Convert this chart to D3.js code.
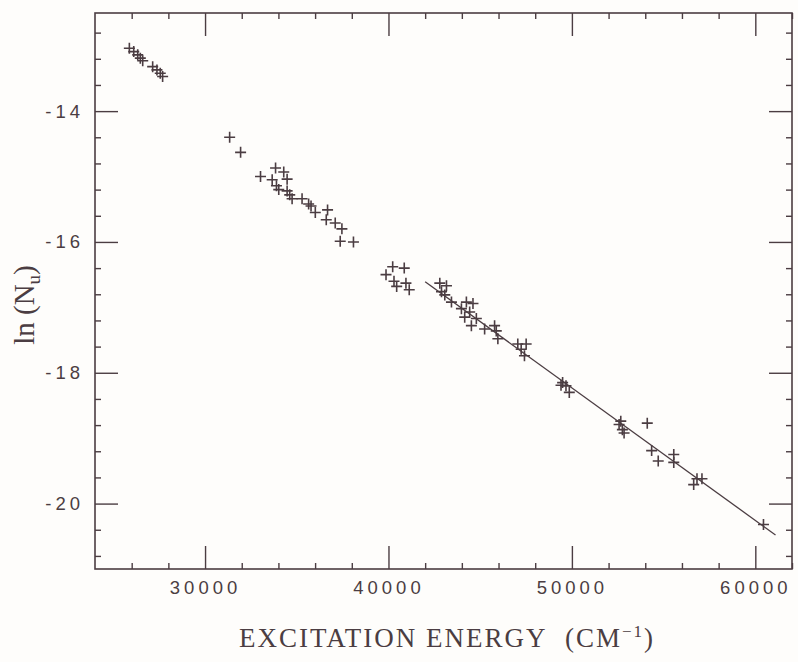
<!DOCTYPE html>
<html>
<head>
<meta charset="utf-8">
<script src="https://cdn.jsdelivr.net/npm/d3@7"></script>
<style>
  body { margin: 0; background: #fefdfb; }
  text { fill: #4b3d42; }
</style>
</head>
<body>
<svg id="main" width="798" height="662"></svg>
<script>
const width = 798
const height = 662
const ink = '#4b3d42'

// excitation energy (cm-1) and ln(Nu) of each measured level
const energy = [
  25873, 26112, 26329, 26470, 26601, 27144, 27377, 27557, 27687,
  31341, 31938, 33024, 33844, 34290, 34474, 33660, 33893, 34018, 34474,
  34616, 34746, 35289, 35647, 35778, 36011, 36679, 36608, 37097, 37461,
  37369, 38091,
  40230, 40860, 39866, 40301, 40447, 40952, 41132,
  42798, 43162, 42891, 43070, 43434, 44248, 44607, 43977, 44427, 44156,
  44791, 44520, 45242, 45785, 45877, 45964,
  47050, 47506, 47235, 47414,
  49494, 49678, 49858, 49407,
  52665, 52573, 52752, 52845, 54109, 54348, 54707, 55554, 55554,
  56820, 57091, 56640, 60445
]
const lnN = [
  -13.04, -13.09, -13.14, -13.19, -13.23, -13.32, -13.37, -13.42, -13.47,
  -14.40, -14.63, -15.00, -14.87, -14.93, -15.04, -15.05, -15.14, -15.20, -15.22,
  -15.28, -15.34, -15.34, -15.42, -15.45, -15.55, -15.51, -15.66, -15.71, -15.80,
  -15.99, -16.00,
  -16.38, -16.40, -16.50, -16.60, -16.68, -16.63, -16.73,
  -16.63, -16.67, -16.76, -16.81, -16.92, -16.92, -16.94, -17.02, -17.07, -17.15,
  -17.17, -17.28, -17.33, -17.28, -17.36, -17.48,
  -17.56, -17.56, -17.64, -17.74,
  -18.15, -18.20, -18.30, -18.19,
  -18.74, -18.79, -18.87, -18.92, -18.77, -19.19, -19.35, -19.25, -19.37,
  -19.62, -19.62, -19.71, -20.32
]

// fitted straight line
const fitEnergy = [42000, 61100]
const fitLnN = [-16.61, -20.48]

const xMajor = [30000, 40000, 50000, 60000]
const xMinor = d3.range(26000, 62001, 2000).filter(d => !xMajor.includes(d))
const yMajor = [-20, -18, -16, -14]
const yMinor = d3.range(-20.8, -12.5, 0.4).map(d => +d.toFixed(1)).filter(d => !yMajor.includes(d))

const margin = {left: 95, right: 6, top: 13, bottom: 93}

const svg = d3.select('#main')
svg.attr('viewBox', `0 0 ${width} ${height}`)

const x = d3.scaleLinear().domain([24000, 62000]).range([margin.left, width - margin.right])
const y = d3.scaleLinear().domain([-21, -12.5]).range([height - margin.bottom, margin.top])

const plot = svg.append('g')

function styleAxis(g) {
  g.select('.domain').remove()
  g.selectAll('line').attr('stroke', ink).attr('stroke-width', 1.4)
  g.selectAll('text')
    .attr('font-family', '"Liberation Sans", Arial, sans-serif')
    .attr('font-size', 18.5)
    .attr('letter-spacing', 4)
    .style('fill', ink)
}

// bottom
plot.append('g').attr('transform', `translate(0,${y(-21)})`)
  .call(d3.axisBottom(x).tickValues(xMajor).tickSize(-23).tickPadding(12).tickFormat(d => String(d)))
  .call(styleAxis)
plot.append('g').attr('transform', `translate(0,${y(-21)})`)
  .call(d3.axisBottom(x).tickValues(xMinor).tickSize(-6).tickFormat(''))
  .call(styleAxis)
// top
plot.append('g').attr('transform', `translate(0,${y(-12.5)})`)
  .call(d3.axisTop(x).tickValues(xMajor).tickSize(-23).tickFormat(''))
  .call(styleAxis)
plot.append('g').attr('transform', `translate(0,${y(-12.5)})`)
  .call(d3.axisTop(x).tickValues(xMinor).tickSize(-6).tickFormat(''))
  .call(styleAxis)
// left
plot.append('g').attr('transform', `translate(${x(24000)},0)`)
  .call(d3.axisLeft(y).tickValues(yMajor).tickSize(-23).tickPadding(11).tickFormat(d => String(d)))
  .call(styleAxis)
plot.append('g').attr('transform', `translate(${x(24000)},0)`)
  .call(d3.axisLeft(y).tickValues(yMinor).tickSize(-6).tickFormat(''))
  .call(styleAxis)
// right
plot.append('g').attr('transform', `translate(${x(62000)},0)`)
  .call(d3.axisRight(y).tickValues(yMajor).tickSize(-23).tickFormat(''))
  .call(styleAxis)
plot.append('g').attr('transform', `translate(${x(62000)},0)`)
  .call(d3.axisRight(y).tickValues(yMinor).tickSize(-6).tickFormat(''))
  .call(styleAxis)

// frame
plot.append('rect')
  .attr('x', x(24000)).attr('y', y(-12.5))
  .attr('width', x(62000) - x(24000)).attr('height', y(-21) - y(-12.5))
  .attr('fill', 'none').attr('stroke', ink).attr('stroke-width', 1.6)

// fit line
plot.append('line')
  .attr('x1', x(fitEnergy[0])).attr('y1', y(fitLnN[0]))
  .attr('x2', x(fitEnergy[1])).attr('y2', y(fitLnN[1]))
  .attr('stroke', ink).attr('stroke-width', 1.3)

// data points as plus marks
const arm = 5.5
const pts = plot.append('g').attr('stroke', ink).attr('stroke-width', 1.6)
energy.forEach((e, i) => {
  const px = x(e), py = y(lnN[i])
  pts.append('path').attr('d', `M ${px - arm} ${py} h ${2 * arm} M ${px} ${py - arm} v ${2 * arm}`)
})

// axis titles
const xt = svg.append('text')
  .attr('x', 447).attr('y', 647)
  .attr('text-anchor', 'middle')
  .attr('font-family', '"Liberation Serif", "DejaVu Serif", serif')
  .attr('font-size', 27)
  .attr('letter-spacing', 2)
xt.append('tspan').text('EXCITATION ENERGY\u00a0\u00a0(CM')
xt.append('tspan').attr('font-size', 17).attr('dy', -10).text('\u22121')
xt.append('tspan').attr('dy', 10).text(')')

const yt = svg.append('text')
  .attr('transform', 'translate(34,305) rotate(-90)')
  .attr('text-anchor', 'middle')
  .attr('font-family', '"Liberation Serif", "DejaVu Serif", serif')
  .attr('font-size', 29)
yt.append('tspan').text('ln\u00a0(N')
yt.append('tspan').attr('font-size', 19).attr('dy', 6).text('u')
yt.append('tspan').attr('dy', -6).text(')')
</script>
</body>
</html>
